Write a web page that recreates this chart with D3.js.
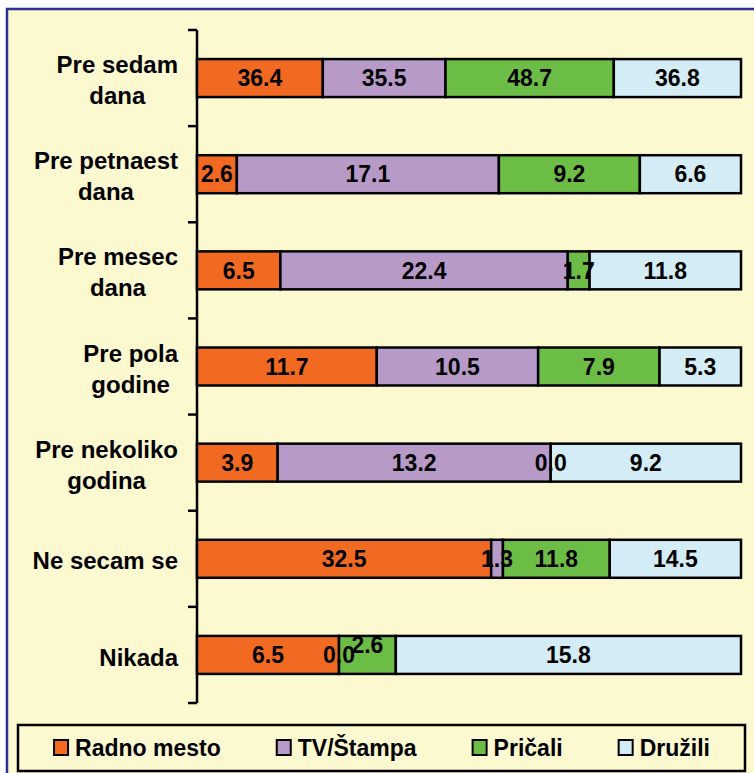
<!DOCTYPE html>
<html>
<head>
<meta charset="utf-8">
<script src="https://cdn.jsdelivr.net/npm/d3@7"></script>
<style>
  body { margin: 0; background: #fff; }
  text { font-family: "Liberation Sans", Arial, sans-serif; font-weight: bold; fill: #000; }
</style>
</head>
<body>
<svg width="754" height="773"></svg>
<script>
var categories = [["Pre sedam", "dana"], ["Pre petnaest", "dana"], ["Pre mesec", "dana"],
                  ["Pre pola", "godine"], ["Pre nekoliko", "godina"], ["Ne secam se"], ["Nikada"]];
var seriesNames = ["Radno mesto", "TV/Štampa", "Pričali", "Družili"];
var radnoMesto = [36.4, 2.6, 6.5, 11.7, 3.9, 32.5, 6.5];
var tvStampa   = [35.5, 17.1, 22.4, 10.5, 13.2, 1.3, 0.0];
var pricali    = [48.7, 9.2, 1.7, 7.9, 0.0, 11.8, 2.6];
var druzili    = [36.8, 6.6, 11.8, 5.3, 9.2, 14.5, 15.8];
var colors = ["#f26a22", "#b89ac9", "#6cbd45", "#d4ecf5"];

var svgWidth = 754, svgHeight = 773;
var bg = "#fcf8d0";
var svg = d3.select('svg');

// outer frame
svg.append("rect")
    .attr("x", 7).attr("y", 9)
    .attr("width", svgWidth + 10).attr("height", svgHeight + 10)
    .attr("fill", bg)
    .attr("stroke", "#2e3192")
    .attr("stroke-width", 2.5);

var rows = categories.map(function (c, i) {
    return { key: c.join(" "), lines: c,
             "Radno mesto": radnoMesto[i], "TV/Štampa": tvStampa[i],
             "Pričali": pricali[i], "Družili": druzili[i] };
});

var stack = d3.stack().keys(seriesNames).offset(d3.stackOffsetExpand);
var stacked = stack(rows);

var xScale = d3.scaleLinear().domain([0, 1]).range([197, 741]);
var yScale = d3.scaleBand()
    .domain(rows.map(function (d) { return d.key; }))
    .range([30, 703])
    .paddingInner(0.605)
    .paddingOuter(0.3025);

// y axis with ticks between categories
var step = yScale.step();
var axis = svg.append("g");
axis.append("line")
    .attr("x1", 197).attr("x2", 197)
    .attr("y1", 30).attr("y2", 703)
    .attr("stroke", "#000").attr("stroke-width", 2.5);
axis.selectAll("line.tick")
    .data(d3.range(categories.length + 1))
    .enter().append("line")
    .attr("class", "tick")
    .attr("x1", 188).attr("x2", 197)
    .attr("y1", function (i) { return 30 + i * step; })
    .attr("y2", function (i) { return 30 + i * step; })
    .attr("stroke", "#000").attr("stroke-width", 2.5);

// bars
svg.selectAll("g.series")
    .data(stacked)
    .enter().append("g")
    .attr("class", "series")
    .attr("fill", function (d, i) { return colors[i]; })
    .selectAll("rect")
    .data(function (d) { return d; })
    .enter().append("rect")
    .attr("x", function (d) { return xScale(d[0]); })
    .attr("width", function (d) { return xScale(d[1]) - xScale(d[0]); })
    .attr("y", function (d) { return yScale(d.data.key); })
    .attr("height", yScale.bandwidth())
    .attr("stroke", "#000")
    .attr("stroke-width", 2.5);

// value labels, raised a bit when they run into the previous one
var labels = svg.append("g");
rows.forEach(function (row) {
    var prevRight = -Infinity;
    stacked.forEach(function (s) {
        var d = s.find(function (e) { return e.data.key === row.key; });
        var cx = (xScale(d[0]) + xScale(d[1])) / 2;
        var cy = yScale(row.key) + yScale.bandwidth() / 2;
        var t = labels.append("text")
            .attr("x", cx)
            .attr("y", cy)
            .attr("dy", "0.36em")
            .attr("text-anchor", "middle")
            .attr("font-size", 23)
            .text(d.data[s.key].toFixed(1));
        var w = t.node().getComputedTextLength();
        if (cx - w / 2 < prevRight + 4) t.attr("y", cy - 10);
        prevRight = cx + w / 2;
    });
});

// category labels, lines centred on each other, block right aligned
var cats = svg.append("g");
rows.forEach(function (row) {
    var g = cats.append("g");
    var lh = 31;
    var cy = yScale(row.key) + yScale.bandwidth() / 2 + 2;
    var y0 = cy - (row.lines.length - 1) * lh / 2;
    var ts = row.lines.map(function (l, j) {
        return g.append("text")
            .attr("y", y0 + j * lh)
            .attr("dy", "0.36em")
            .attr("text-anchor", "middle")
            .attr("font-size", 24)
            .text(l);
    });
    var maxW = d3.max(ts, function (t) { return t.node().getComputedTextLength(); });
    ts.forEach(function (t) { t.attr("x", 178 - maxW / 2); });
});

// legend
var legend = svg.append("g");
legend.append("rect")
    .attr("x", 18).attr("y", 725)
    .attr("width", 727).attr("height", 46)
    .attr("fill", bg)
    .attr("stroke", "#000").attr("stroke-width", 2.5);
var items = seriesNames.map(function (name, i) {
    var g = legend.append("g");
    g.append("rect")
        .attr("width", 14).attr("height", 15)
        .attr("y", 740)
        .attr("fill", colors[i])
        .attr("stroke", "#000").attr("stroke-width", 2);
    var t = g.append("text")
        .attr("x", 21)
        .attr("y", 756)
        .attr("font-size", 23)
        .text(name);
    return { g: g, w: 21 + t.node().getComputedTextLength() };
});
var gap = 56;
var total = d3.sum(items, function (d) { return d.w; }) + gap * (items.length - 1);
var lx = 382 - total / 2;
items.forEach(function (it) {
    it.g.attr("transform", "translate(" + lx + ",0)");
    lx += it.w + gap;
});
</script>
</body>
</html>
